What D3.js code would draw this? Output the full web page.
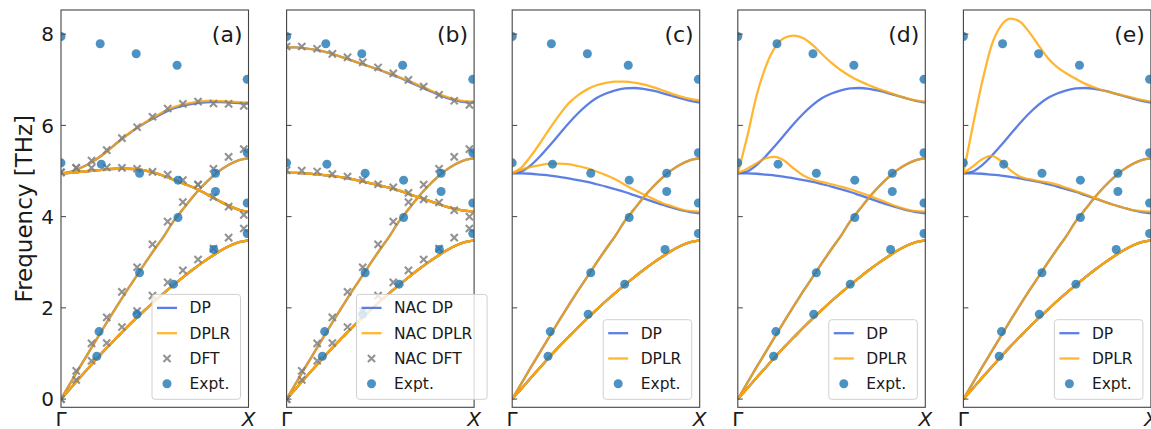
<!DOCTYPE html>
<html><head><meta charset="utf-8">
<script src="https://cdn.jsdelivr.net/npm/d3@7/dist/d3.min.js"></script>
<style>body{margin:0;background:#fff}svg{display:block}text{font-family:"DejaVu Sans",sans-serif}</style>
</head><body>
<svg id="chart" width="1151" height="429"></svg>
<script>
// ---------------- data ----------------
const qGrid = [0,0.05,0.1,0.15,0.2,0.25,0.3,0.35,0.4,0.45,0.5,0.55,0.6,0.65,0.7,0.75,0.8,0.85,0.9,0.95,1.0];
// acoustic branches (shared by DP and DPLR)
const TA = [0,0.23,0.47,0.70,0.93,1.15,1.36,1.57,1.77,1.96,2.15,2.33,2.50,2.67,2.83,2.98,3.12,3.25,3.36,3.44,3.48];
const LA = [0,0.35,0.70,1.04,1.38,1.72,2.05,2.37,2.68,2.99,3.29,3.58,3.90,4.16,4.42,4.65,4.85,5.02,5.15,5.24,5.28];
// panel (a): no NAC
const TO_a   = [4.95,4.96,4.98,5.00,5.02,5.04,5.05,5.05,5.04,5.01,4.96,4.89,4.81,4.73,4.65,4.55,4.44,4.33,4.23,4.15,4.10];
const LO_a_dp   = [4.95,4.98,5.06,5.16,5.29,5.45,5.62,5.78,5.93,6.06,6.17,6.28,6.37,6.43,6.47,6.50,6.51,6.51,6.50,6.49,6.48];
const LO_a_dplr = [4.95,4.98,5.06,5.16,5.29,5.45,5.62,5.79,5.94,6.07,6.19,6.31,6.40,6.46,6.50,6.53,6.54,6.53,6.52,6.51,6.50];
// panel (b): NAC
const TO_b   = [4.96,4.96,4.95,4.93,4.91,4.89,4.86,4.82,4.78,4.73,4.68,4.63,4.57,4.50,4.43,4.36,4.29,4.22,4.17,4.13,4.11];
const LO_b_dp   = [7.71,7.71,7.69,7.66,7.62,7.56,7.49,7.42,7.35,7.28,7.21,7.13,7.05,6.96,6.87,6.78,6.69,6.61,6.55,6.51,6.50];
const LO_b_dplr = [7.71,7.71,7.69,7.66,7.62,7.56,7.49,7.42,7.35,7.28,7.21,7.14,7.06,6.98,6.89,6.80,6.71,6.63,6.57,6.53,6.52];
// panels (c)-(e): DP optical branches
const OPT_dp_up = [4.95,4.99,5.13,5.33,5.56,5.80,6.04,6.26,6.45,6.60,6.70,6.77,6.81,6.82,6.80,6.76,6.71,6.65,6.59,6.54,6.50];
const OPT_dp_lo = [4.95,4.95,4.94,4.92,4.90,4.87,4.84,4.80,4.76,4.71,4.66,4.60,4.54,4.47,4.40,4.33,4.26,4.20,4.14,4.10,4.07];
// DPLR optical branches
const OPT_c_up = [4.95,5.08,5.33,5.62,5.93,6.22,6.48,6.66,6.79,6.88,6.93,6.96,6.96,6.94,6.90,6.84,6.77,6.70,6.63,6.58,6.55];
const OPT_c_lo = [4.95,5.03,5.09,5.13,5.16,5.16,5.15,5.11,5.06,4.99,4.91,4.82,4.70,4.59,4.49,4.39,4.30,4.23,4.16,4.12,4.11];
const OPT_d_up = [4.95,5.75,6.65,7.30,7.72,7.92,7.97,7.91,7.76,7.56,7.37,7.21,7.08,6.97,6.88,6.80,6.73,6.66,6.60,6.55,6.52];
const OPT_d_lo = [4.95,5.05,5.17,5.28,5.31,5.22,5.05,4.90,4.81,4.76,4.71,4.66,4.60,4.53,4.46,4.38,4.30,4.22,4.16,4.12,4.11];
const OPT_e_up = [4.95,5.98,6.95,7.75,8.18,8.34,8.28,8.05,7.76,7.48,7.28,7.14,7.02,6.91,6.83,6.76,6.71,6.66,6.61,6.56,6.52];
const OPT_e_lo = [4.95,5.10,5.26,5.33,5.22,5.02,4.88,4.82,4.78,4.75,4.70,4.63,4.56,4.49,4.41,4.33,4.26,4.20,4.15,4.12,4.11];
// DFT points
const qDFT = [0,0.081,0.163,0.244,0.325,0.406,0.488,0.569,0.65,0.731,0.813,0.894,0.975];
const DFT_TA = [0,0.42,0.84,1.23,1.58,1.93,2.27,2.56,2.82,3.06,3.30,3.54,3.74];
const DFT_LA = [0,0.62,1.22,1.79,2.35,2.89,3.39,3.89,4.32,4.70,5.05,5.31,5.48];
const DFT_TO_a = [4.97,5.07,5.07,5.08,5.07,5.05,4.98,4.92,4.80,4.70,4.43,4.22,4.04];
const DFT_LO_a = [4.97,5.07,5.23,5.46,5.72,5.96,6.19,6.37,6.47,6.52,6.48,6.47,6.43];
const DFT_TO_b = [5.02,5.01,4.99,4.93,4.88,4.80,4.71,4.64,4.52,4.38,4.31,4.14,4.00];
const DFT_LO_b = [7.73,7.73,7.68,7.57,7.49,7.38,7.27,7.14,7.00,6.85,6.67,6.54,6.45];
// experiment
const qExpt = [0,0.209,0.401,0.619,0.993, 0,0.215,0.419,0.624,0.824,0.824,0.993,0.993,0.993, 0.203,0.191,0.419,0.405,0.624,0.60,0.815];
const vExpt = [7.95,7.79,7.57,7.32,7.01, 5.18,5.15,4.95,4.80,4.95,4.55,5.40,4.30,3.63, 1.48,0.94,2.77,1.86,3.98,2.52,3.28];
// labels
const panelLabels = ["(a)","(b)","(c)","(d)","(e)"];
const yTicks = [0,2,4,6,8];
const xTickLabels = ["Γ","X"];
const legendA = ["DP","DPLR","DFT","Expt."];
const legendB = ["NAC DP","NAC DPLR","NAC DFT","Expt."];
const legendC = ["DP","DPLR","Expt."];

// ---------------- layout ----------------
const svg = d3.select("#chart");
const pTop = 10, pBottom = 407.3, pw = 187.5;
const lefts = [61, 286.6, 512.2, 737.8, 963.4];
const legendRightOff = [-8, 13, -8, -8, -8];
const BLUE = "#4169e1", ORANGE = "#ffa500", EXPT = "#1f77b4";
const y = d3.scaleLinear().domain([-0.18, 8.53]).range([pBottom, pTop]);

const panels = [
  {dp:[TA,TA,LA,TO_a,TO_a,LO_a_dp], dplr:[TA,TA,LA,TO_a,TO_a,LO_a_dplr], dft:[DFT_TA,DFT_LA,DFT_TO_a,DFT_LO_a], leg:legendA},
  {dp:[TA,TA,LA,TO_b,TO_b,LO_b_dp], dplr:[TA,TA,LA,TO_b,TO_b,LO_b_dplr], dft:[DFT_TA,DFT_LA,DFT_TO_b,DFT_LO_b], leg:legendB},
  {dp:[TA,TA,LA,OPT_dp_lo,OPT_dp_up], dplr:[TA,TA,LA,OPT_c_lo,OPT_c_up], dft:[], leg:legendC},
  {dp:[TA,TA,LA,OPT_dp_lo,OPT_dp_up], dplr:[TA,TA,LA,OPT_d_lo,OPT_d_up], dft:[], leg:legendC},
  {dp:[TA,TA,LA,OPT_dp_lo,OPT_dp_up], dplr:[TA,TA,LA,OPT_e_lo,OPT_e_up], dft:[], leg:legendC}
];

const CROSS = 3.6;
panels.forEach((p, i) => {
  const x = d3.scaleLinear().domain([0,1]).range([lefts[i], lefts[i]+pw]);
  const g = svg.append("g");
  const cid = "clip" + i;
  svg.append("clipPath").attr("id", cid).append("rect")
    .attr("x", lefts[i]).attr("y", pTop).attr("width", pw).attr("height", pBottom-pTop);
  const plot = g.append("g").attr("clip-path", `url(#${cid})`);
  const line = d3.line().x((d,k)=>x(qGrid[k])).y(d=>y(d)).curve(d3.curveMonotoneX);
  p.dp.forEach(arr => plot.append("path").attr("d", line(arr)).attr("fill","none")
    .attr("stroke", BLUE).attr("stroke-width", 2.3).attr("stroke-opacity", 0.85));
  p.dplr.forEach(arr => plot.append("path").attr("d", line(arr)).attr("fill","none")
    .attr("stroke", ORANGE).attr("stroke-width", 2.3).attr("stroke-opacity", 0.8));
  p.dft.forEach(arr => {
    arr.forEach((v,k) => {
      const cx = x(qDFT[k]), cy = y(v), s = CROSS;
      plot.append("path").attr("d", `M${cx-s},${cy-s}L${cx+s},${cy+s}M${cx-s},${cy+s}L${cx+s},${cy-s}`)
        .attr("stroke", "#808080").attr("stroke-width", 2.1).attr("stroke-opacity", 0.85);
    });
  });
  qExpt.forEach((q,k) => plot.append("circle").attr("cx", x(q)).attr("cy", y(vExpt[k])).attr("r", 4.5)
    .attr("fill", EXPT).attr("fill-opacity", 0.8));

  // frame
  g.append("rect").attr("x", lefts[i]).attr("y", pTop).attr("width", pw).attr("height", pBottom-pTop)
    .attr("fill","none").attr("stroke","#444").attr("stroke-width",1.1);
  // y ticks (inward)
  yTicks.forEach(t => g.append("line").attr("x1", lefts[i]).attr("x2", lefts[i]+5)
    .attr("y1", y(t)).attr("y2", y(t)).attr("stroke","#444").attr("stroke-width",1));
  if (i === 0) {
    yTicks.forEach(t => g.append("text").attr("x", lefts[i]-7).attr("y", y(t)).attr("dy","0.36em")
      .attr("text-anchor","end").attr("font-size", 20).attr("fill","#1a1a1a").text(t));
  }
  // x tick labels
  g.append("text").attr("x", x(0)).attr("y", 425.5).attr("text-anchor","middle")
    .attr("font-size", 20).attr("fill","#1a1a1a").text(xTickLabels[0]);
  g.append("text").attr("x", x(1)).attr("y", 425.5).attr("text-anchor","middle")
    .attr("font-size", 20).attr("font-style","italic").attr("fill","#1a1a1a").text(xTickLabels[1]);
  // panel label
  g.append("text").attr("x", lefts[i]+pw-6).attr("y", 42).attr("text-anchor","end")
    .attr("font-size", 22).attr("fill","#1a1a1a").text(panelLabels[i]);

  // legend
  const n = p.leg.length, row = 25.3;
  const lw = (i === 1) ? 130.6 : 88.5;
  const lh = 13.5 + (n-1)*row + 15.5;
  const lx = lefts[i] + pw + legendRightOff[i] - lw;
  const ly = pBottom - 8 - lh;
  const lg = svg.append("g");
  lg.append("rect").attr("x", lx).attr("y", ly).attr("width", lw).attr("height", lh).attr("rx", 3)
    .attr("fill","#fff").attr("fill-opacity",0.8).attr("stroke","#d0d0d0").attr("stroke-width",1);
  p.leg.forEach((lab, k) => {
    const cy = ly + 13.5 + k*row;
    const kind = (k === 0) ? "dp" : (k === 1) ? "dplr" : (lab.indexOf("DFT") >= 0 ? "dft" : "expt");
    const hx0 = lx + 5, hx1 = lx + 25, hc = lx + 15;
    if (kind === "dp" || kind === "dplr") {
      lg.append("line").attr("x1", hx0).attr("x2", hx1).attr("y1", cy).attr("y2", cy)
        .attr("stroke", kind === "dp" ? BLUE : ORANGE).attr("stroke-width", 2.3)
        .attr("stroke-opacity", kind === "dp" ? 0.85 : 0.8);
    } else if (kind === "dft") {
      const s = CROSS;
      lg.append("path").attr("d", `M${hc-s},${cy-s}L${hc+s},${cy+s}M${hc-s},${cy+s}L${hc+s},${cy-s}`)
        .attr("stroke","#808080").attr("stroke-width",2.1).attr("stroke-opacity",0.85);
    } else {
      lg.append("circle").attr("cx", hc).attr("cy", cy).attr("r", 4.5).attr("fill", EXPT).attr("fill-opacity", 0.8);
    }
    lg.append("text").attr("x", lx + 37.5).attr("y", cy).attr("dy","0.36em")
      .attr("font-size", 15.5).attr("fill","#1a1a1a").text(lab);
  });
});

// y axis label
svg.append("text").attr("transform", `translate(31.5,${(pTop+pBottom)/2}) rotate(-90)`)
  .attr("text-anchor","middle").attr("font-size", 23).attr("fill","#1a1a1a").text("Frequency [THz]");
</script>
</body></html>
